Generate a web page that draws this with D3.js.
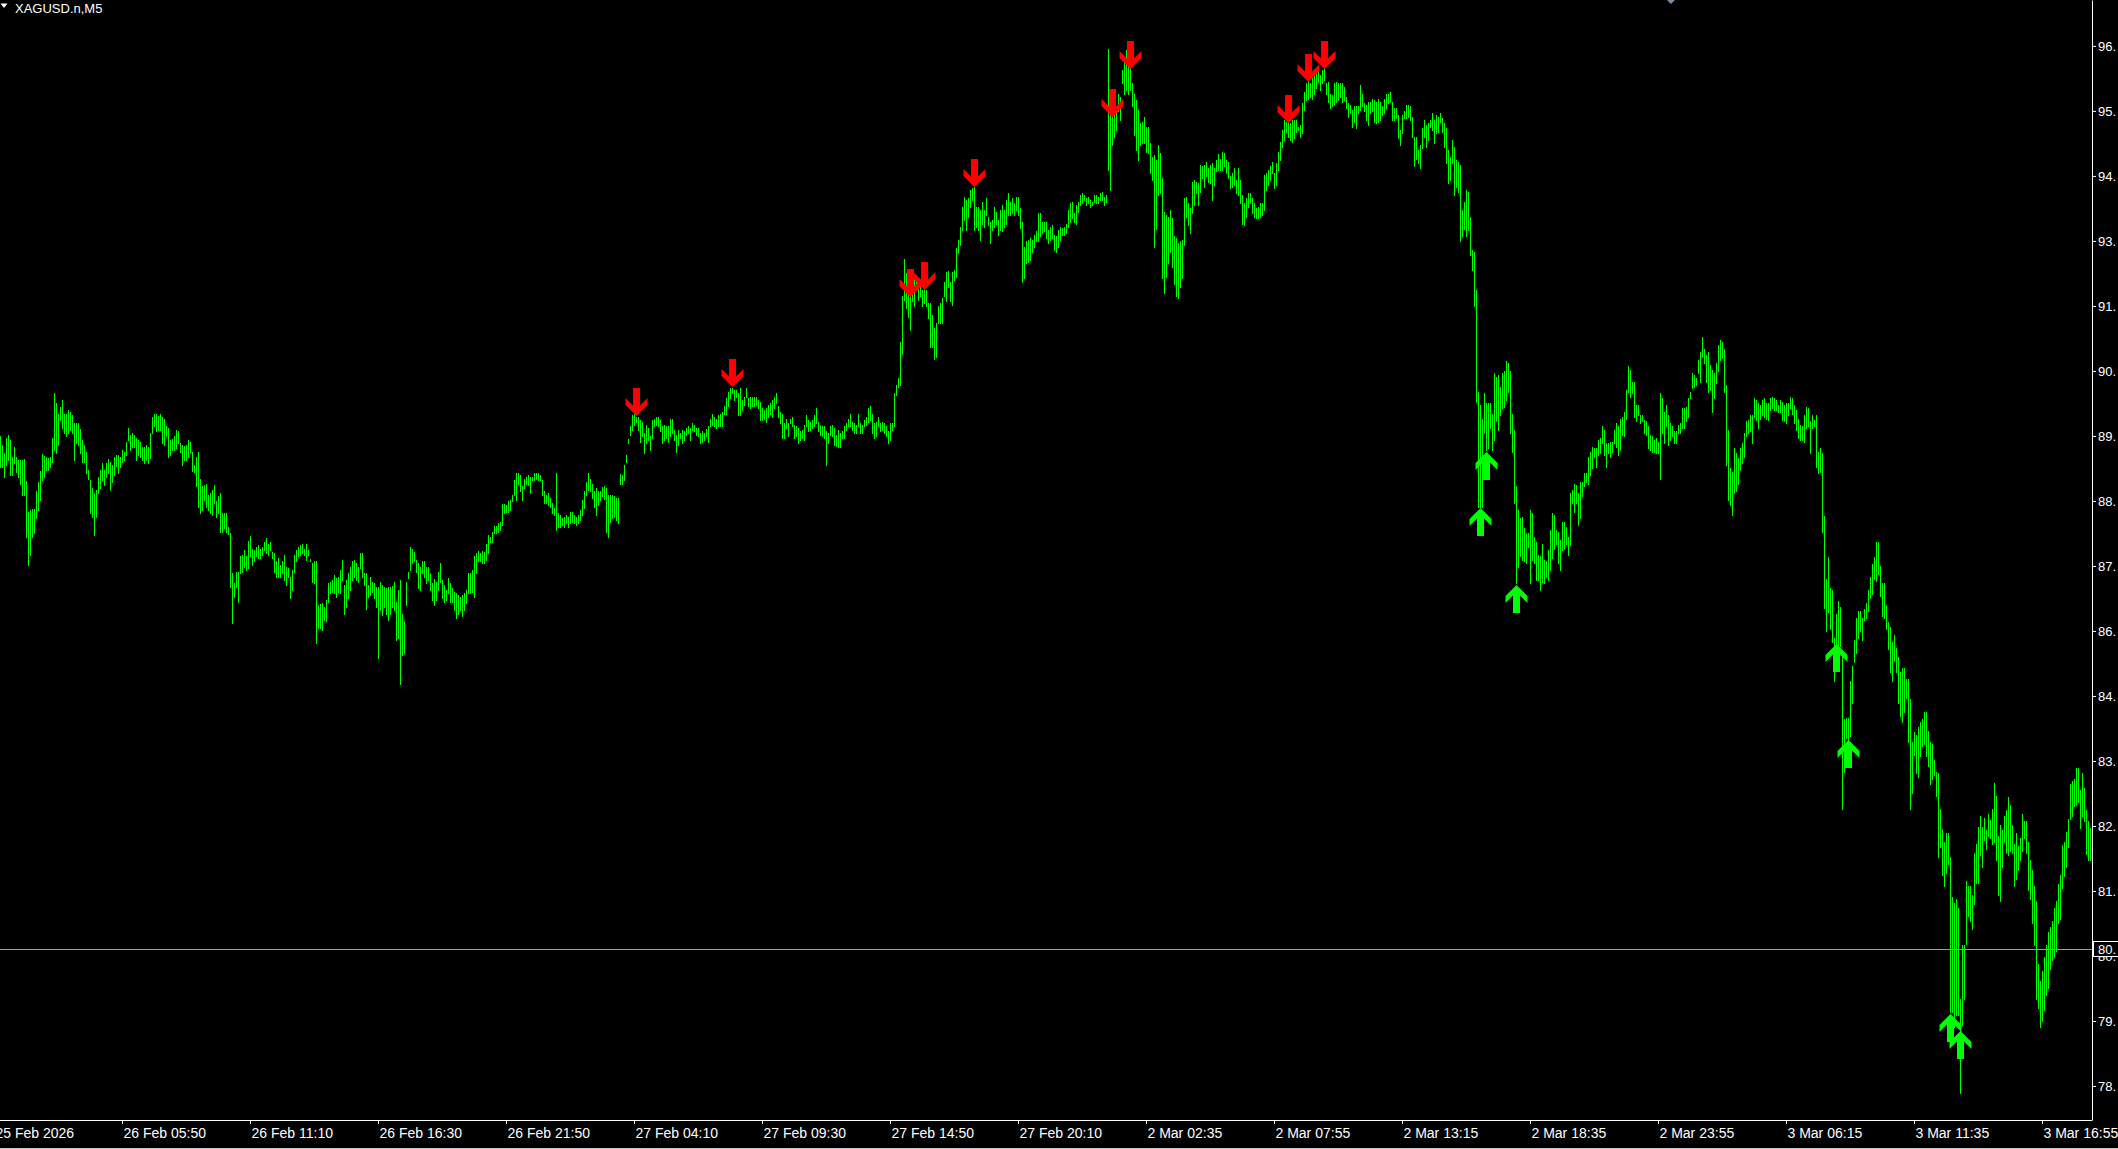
<!DOCTYPE html>
<html><head><meta charset="utf-8">
<script src="https://cdn.jsdelivr.net/npm/d3@7/dist/d3.min.js"></script>
<style>html,body{margin:0;padding:0;background:#000;overflow:hidden}svg{display:block}</style>
</head><body>
<svg id="chart" width="2118" height="1149"></svg>
<script>
const symbolTitle = "XAGUSD.n,M5";

const barHigh = [
89.62,89.46,89.31,89.59,89.64,89.55,89.25,89.43,89.25,89.19,
89.19,89.19,89.21,88.82,88.27,88.30,88.31,88.31,88.64,88.80,
89.00,89.30,89.26,89.24,89.22,89.24,89.58,90.38,90.20,90.02,
90.14,90.26,90.02,90.02,90.09,90.05,89.99,89.85,89.85,89.85,
89.74,89.55,89.46,89.34,89.01,88.83,88.69,88.60,88.66,88.89,
89.01,89.13,89.02,89.13,89.20,89.16,89.10,89.24,89.28,89.28,
89.25,89.37,89.34,89.52,89.76,89.64,89.67,89.64,89.58,89.55,
89.51,89.43,89.43,89.46,89.43,89.67,89.95,90.01,90.01,89.98,
90.01,89.96,89.92,89.79,89.76,89.55,89.56,89.62,89.73,89.70,89.49,
89.46,89.44,89.46,89.54,89.52,89.34,89.10,89.25,89.34,88.85,
88.72,88.74,88.76,88.57,88.60,88.66,88.74,88.45,88.54,88.60,
88.24,88.24,88.24,88.00,87.89,87.17,86.99,87.20,87.20,87.47,
87.50,87.58,87.47,87.75,87.83,87.60,87.58,87.64,87.67,87.61,
87.64,87.73,87.79,87.70,87.73,87.54,87.53,87.38,87.44,87.32,
87.38,87.50,87.29,87.26,87.11,87.23,87.50,87.58,87.64,87.67,
87.69,87.61,87.70,87.58,87.42,87.35,87.38,87.38,86.60,86.62,
86.63,86.57,86.69,86.99,87.02,87.05,87.14,87.08,87.11,87.23,87.41,
86.96,87.05,87.17,87.29,87.38,87.41,87.35,87.29,87.53,87.53,
87.17,87.17,86.96,87.11,87.02,87.00,86.93,86.93,87.02,86.96,
86.93,86.90,86.93,86.93,86.94,87.02,86.66,86.87,87.05,86.45,
86.31,87.02,87.20,87.64,87.61,87.55,87.41,87.36,87.29,87.38,
87.38,87.29,87.29,87.17,86.99,87.06,87.02,87.20,87.35,87.05,
86.96,86.87,87.08,86.99,86.90,86.84,86.81,86.78,86.75,86.78,
86.81,86.87,87.17,87.17,87.23,87.47,87.53,87.57,87.53,87.56,
87.55,87.70,87.85,87.82,87.91,88.01,88.02,88.06,88.09,88.40,88.40,
88.39,88.45,88.48,88.57,88.83,88.95,88.96,88.92,88.72,88.86,
88.89,88.92,88.89,88.89,88.95,88.96,88.95,88.92,88.83,88.63,
88.57,88.60,88.51,88.42,88.33,88.96,88.24,88.21,88.15,88.18,
88.21,88.18,88.27,88.27,88.21,88.18,88.21,88.30,88.48,88.63,
88.80,88.95,88.86,88.77,88.63,88.69,88.63,88.63,88.70,88.72,
88.69,88.57,88.57,88.57,88.54,88.51,88.51,88.94,88.93,89.10,89.28,
89.56,89.79,90.00,90.02,89.96,89.96,
89.91,89.87,89.67,89.82,89.76,89.61,89.91,89.93,89.96,89.96,
89.91,89.79,89.82,89.79,89.79,89.93,89.92,89.73,89.64,89.73,
89.68,89.73,89.70,89.76,89.79,89.76,89.85,89.82,89.76,89.76,
89.68,89.70,89.67,89.74,89.79,89.93,90.02,89.96,89.93,89.99,
90.02,90.05,90.15,90.29,90.41,90.47,90.47,90.44,90.44,90.38,
90.47,90.26,90.32,90.47,90.29,90.32,90.32,90.32,90.32,90.26,
90.23,90.11,90.08,90.11,90.17,90.20,90.26,90.32,90.38,90.15,
90.05,90.02,89.85,89.93,89.85,89.93,89.96,89.82,89.79,89.76,
89.70,89.73,89.82,89.99,89.91,89.87,89.91,89.99,90.11,89.87,
89.82,89.79,89.79,89.70,89.67,89.79,89.82,89.76,89.64,89.73,
89.67,89.70,89.79,89.85,89.93,90.01,89.87,89.85,89.82,90.02,
89.85,89.82,89.91,89.96,90.11,90.15,90.02,89.85,89.87,89.96,
89.85,89.87,89.85,89.79,89.70,89.85,89.85,90.38,90.53,90.65,
91.30,92.11,92.77,92.52,92.22,92.31,92.37,92.46,92.49,92.28,
92.31,92.22,92.28,92.22,91.99,91.99,91.78,91.54,91.63,91.93,
91.99,92.08,92.37,92.55,92.57,92.37,92.55,92.58,92.97,93.12,
93.35,93.71,93.89,93.83,93.86,94.01,94.04,94.07,93.71,93.71,
93.65,93.80,93.65,93.86,93.53,93.44,93.47,93.71,93.62,93.47,
93.65,93.74,93.65,93.83,93.95,93.80,93.86,93.77,93.89,93.89,
93.68,93.44,93.00,93.09,93.12,93.15,93.12,93.21,93.27,93.59,
93.59,93.44,93.44,93.44,93.30,93.35,93.38,93.21,93.18,93.30,
93.35,93.33,93.35,93.41,93.65,93.77,93.80,93.59,93.74,93.80,
93.92,93.95,93.92,93.86,93.89,93.83,93.80,93.92,93.92,93.89,
93.95,93.98,93.89,93.92,
96.52,95.35,95.50,95.56,95.50,95.73,95.67,96.15,96.30,96.51,
96.27,96.18,95.91,95.73,95.61,95.44,95.20,95.23,95.32,95.14,
95.14,94.84,94.60,94.63,94.54,94.81,94.66,94.22,93.62,93.56,
93.53,93.65,93.50,93.18,93.15,93.06,93.09,93.12,93.86,93.89,
93.77,93.68,94.16,94.19,94.16,94.13,94.46,94.43,94.46,94.51,
94.40,94.46,94.49,94.40,94.54,94.65,94.57,94.69,94.66,94.54,
94.51,94.25,94.31,94.40,94.19,94.40,94.19,93.92,93.77,93.86,
93.95,93.95,93.86,93.77,93.68,93.71,93.77,93.77,94.28,94.31,
94.37,94.43,94.51,94.31,94.49,94.69,94.87,95.08,95.26,95.23,
95.26,95.20,95.26,95.26,95.26,95.14,95.17,95.56,95.76,95.91,
95.97,95.91,96.03,96.09,96.15,96.18,96.06,96.15,96.18,95.92,
95.94,95.73,95.70,95.91,95.94,95.92,95.91,95.91,95.85,95.67,
95.56,95.53,95.44,95.51,95.50,95.50,95.88,95.73,95.56,95.53,
95.58,95.58,95.64,95.61,95.58,95.64,95.58,95.50,95.64,95.73,
95.73,95.76,95.58,95.47,95.47,95.35,95.08,95.35,95.41,95.53,
95.53,95.50,95.32,94.96,94.96,94.72,94.81,95.11,95.26,95.17,
95.20,95.26,95.38,95.26,95.35,95.32,95.38,95.29,95.20,95.11,
94.72,94.60,94.90,94.78,94.54,94.51,94.46,93.65,93.80,94.01,
93.98,93.53,92.94,92.91,92.22,
90.41,90.17,89.93,90.38,90.20,90.20,90.20,90.02,90.74,90.68,
90.71,90.50,90.74,90.77,90.95,90.92,90.77,90.02,89.73,88.72,
88.30,88.15,88.18,87.97,87.88,87.88,88.30,88.24,87.82,87.73,
87.50,87.47,87.70,87.41,87.38,87.59,87.94,88.24,88.21,87.94,
87.91,87.76,88.09,88.09,88.00,87.82,88.60,88.66,88.77,88.75,
88.60,88.80,88.80,88.95,88.95,89.25,89.34,89.43,89.40,89.40,
89.55,89.58,89.79,89.73,89.49,89.49,89.52,89.52,89.73,89.85,
89.79,89.93,89.96,90.05,90.44,90.86,90.80,90.59,90.59,90.17,
90.17,89.99,89.99,89.91,89.88,89.79,89.64,89.61,89.55,89.58,
89.52,90.38,90.29,90.05,90.17,89.99,89.85,89.79,89.70,89.70,
89.82,89.85,90.11,90.11,90.14,90.29,90.41,90.74,90.71,90.65,
90.98,91.12,91.39,91.18,91.06,91.12,90.89,90.80,90.74,90.92,
91.24,91.33,91.30,91.17,90.53,89.73,89.04,88.98,89.40,89.31,
89.22,89.40,89.49,89.67,89.88,89.91,89.99,89.99,90.29,90.26,
90.20,90.17,90.26,90.29,90.20,90.20,90.29,90.31,90.29,90.26,
90.17,90.27,90.23,90.17,90.20,90.20,90.32,90.30,90.17,90.08,
89.93,89.82,89.79,89.99,90.14,90.11,89.88,89.99,89.91,89.99,
89.34,89.40,89.31,
88.20,
87.06,87.46,86.90,86.87,86.01,86.44,86.67,86.57,85.68,84.56,
84.59,84.59,85.25,85.51,85.97,86.37,86.50,86.50,86.37,86.54,
86.64,86.87,87.10,87.33,87.46,87.72,87.72,87.30,87.00,87.00,
86.60,86.30,86.21,85.94,86.07,85.84,85.68,85.41,85.48,85.48,
85.28,85.28,84.92,84.16,84.33,84.29,84.42,84.52,84.56,84.69,
84.69,84.36,84.16,84.13,83.83,83.63,83.60,82.97,82.61,82.38,
82.54,82.54,82.11,81.39,81.29,81.35,81.19,79.57,80.53,80.53,
81.68,81.59,81.59,81.42,82.18,82.34,82.64,82.84,82.64,82.81,
82.58,82.87,82.77,82.97,83.43,83.20,82.48,82.67,82.58,82.84,
82.94,83.17,83.04,82.67,82.34,82.54,82.31,82.44,82.87,82.74,
82.74,82.38,82.05,81.88,81.59,81.32,80.20,79.90,80.07,80.33,
80.53,80.76,80.86,80.96,81.19,81.32,81.62,
81.79,82.32,82.38,82.55,82.78,83.41,83.47,83.50,83.70,83.70,
83.31,83.61,83.34,82.94,82.75,82.62
];

const barLow = [
89.07,89.07,88.89,89.10,89.19,88.92,88.92,89.13,88.98,88.89,
88.77,88.57,88.57,87.82,87.32,87.50,87.82,87.88,88.15,88.30,
88.48,88.83,88.88,89.02,89.01,89.06,89.16,89.37,89.31,89.46,
89.90,89.76,89.67,89.61,89.67,89.73,89.67,89.19,89.49,89.46,
89.31,89.16,89.16,88.95,88.86,88.24,88.18,87.85,88.18,88.60,
88.69,88.83,88.74,88.89,88.95,88.66,88.80,88.92,89.08,88.95,
89.07,89.16,89.19,89.28,89.55,89.37,89.43,89.43,89.19,89.28,
89.25,89.19,89.13,89.19,89.13,89.22,89.67,89.79,89.70,89.72,
89.73,89.49,89.46,89.61,89.25,89.28,89.37,89.37,89.40,89.49,89.34,
89.10,89.19,89.19,89.25,89.31,89.00,88.98,88.72,88.36,88.24,
88.30,88.48,88.36,88.30,88.24,88.21,88.42,88.18,88.24,87.91,
87.91,87.97,87.91,87.87,86.93,86.28,86.75,86.93,86.66,87.17,
87.20,87.29,87.23,87.26,87.47,87.32,87.38,87.47,87.44,87.44,
87.50,87.58,87.53,87.50,87.58,87.44,87.20,87.11,87.11,87.11,
87.17,87.05,86.96,87.11,86.72,86.87,87.20,87.38,87.47,87.50,
87.53,87.50,87.41,87.50,87.38,87.02,86.99,85.92,86.19,86.20,
86.16,86.34,86.31,86.66,86.81,86.84,86.81,86.75,86.84,86.81,87.05,
86.45,86.57,86.72,86.87,87.05,87.11,87.05,87.02,87.26,87.11,
86.96,86.54,86.75,86.78,86.84,86.72,86.57,85.65,86.51,86.43,
86.57,86.45,86.34,86.45,86.57,86.51,85.98,86.01,85.19,85.71,
85.74,86.60,87.08,87.23,87.35,87.38,87.20,86.90,86.87,87.17,
87.11,86.99,87.05,86.87,86.69,86.60,86.69,86.87,87.02,86.72,
86.66,86.69,86.81,86.66,86.66,86.51,86.37,86.45,86.51,86.40,
86.51,86.63,86.81,86.81,86.84,86.75,87.17,87.38,87.38,87.36,
87.35,87.41,87.53,87.73,87.73,87.88,87.88,87.91,87.94,88.03,88.24,
88.27,88.27,88.30,88.45,88.57,88.48,88.77,88.63,88.48,88.69,
88.77,88.74,88.60,88.83,88.83,88.86,88.83,88.83,88.57,88.42,
88.42,88.39,88.36,88.24,88.21,87.94,88.00,88.00,88.03,88.00,
88.06,88.00,88.06,88.09,88.06,88.03,88.06,88.12,88.21,88.33,
88.57,88.66,88.63,88.51,88.36,88.21,88.39,88.48,88.54,88.50,
87.91,87.82,88.09,88.15,88.18,88.12,88.06,88.77,88.77,88.83,89.16,
89.49,89.64,89.73,89.82,89.87,89.73,
89.52,89.61,89.31,89.49,89.55,89.37,89.58,89.79,89.82,89.79,
89.70,89.49,89.55,89.58,89.52,89.61,89.67,89.55,89.34,89.46,
89.58,89.49,89.55,89.64,89.67,89.55,89.73,89.70,89.64,89.61,
89.49,89.52,89.55,89.61,89.52,89.79,89.82,89.79,89.76,89.79,
89.79,89.79,90.02,90.02,90.15,90.29,90.38,90.26,90.32,89.99,
89.99,90.08,90.17,90.32,90.15,90.11,90.15,90.15,90.17,90.11,
89.91,89.91,89.93,89.87,89.96,90.02,89.96,90.11,90.20,89.96,
89.85,89.58,89.58,89.76,89.61,89.85,89.79,89.58,89.61,89.49,
89.55,89.58,89.55,89.79,89.70,89.73,89.76,89.79,89.85,89.70,
89.64,89.61,89.58,89.10,89.49,89.64,89.61,89.46,89.44,89.43,
89.43,89.58,89.58,89.73,89.79,89.79,89.73,89.67,89.67,89.79,
89.67,89.67,89.79,89.82,89.87,89.91,89.67,89.58,89.61,89.79,
89.70,89.73,89.67,89.61,89.49,89.55,89.73,89.79,90.35,90.50,
90.53,91.09,92.05,91.90,91.75,91.51,92.02,91.93,92.28,92.05,
92.11,91.93,91.99,91.93,91.72,91.21,91.21,91.00,91.03,91.63,
91.63,91.63,92.11,92.02,92.28,92.02,91.96,92.40,92.46,92.88,
93.03,93.30,93.47,93.30,93.53,93.71,93.83,93.30,93.35,93.30,
93.12,93.41,93.35,93.56,93.38,93.06,93.30,93.35,93.41,93.21,
93.30,93.27,93.35,93.41,93.56,93.56,93.59,93.56,93.65,93.56,
93.33,92.37,92.43,92.70,92.73,92.76,92.91,93.00,93.09,93.09,
93.18,93.24,93.27,93.15,93.06,93.12,93.15,92.94,92.91,93.00,
93.12,93.21,93.21,93.24,93.35,93.44,93.50,93.44,93.41,93.62,
93.74,93.77,93.83,93.74,93.77,93.71,93.74,93.80,93.77,93.77,
93.83,93.83,93.74,93.80,
94.37,94.01,94.81,94.96,95.08,95.41,95.26,95.91,95.73,95.79,
95.73,95.79,95.50,94.99,94.72,94.54,94.81,94.84,94.84,94.69,
94.66,94.31,94.19,93.00,93.32,93.92,93.95,92.43,92.17,92.46,
92.70,92.91,92.64,92.34,92.11,92.08,92.28,92.43,93.03,93.53,
93.38,93.24,93.59,93.74,93.95,93.74,93.98,94.22,94.07,94.25,
94.16,94.13,93.83,94.10,94.34,94.37,94.37,94.37,94.43,94.31,
94.22,94.04,94.07,94.10,93.95,93.92,93.77,93.41,93.38,93.53,
93.71,93.77,93.59,93.53,93.50,93.50,93.53,93.56,93.65,94.01,
94.10,94.19,94.31,94.04,94.10,94.37,94.54,94.78,94.90,95.05,
94.96,94.90,94.87,94.93,95.05,95.08,94.96,95.02,95.44,95.61,
95.64,95.67,95.64,95.73,95.82,95.94,95.79,95.91,95.97,95.73,
95.58,95.47,95.50,95.53,95.58,95.61,95.67,95.58,95.61,95.47,
95.32,95.38,95.14,95.23,95.11,95.38,95.44,95.50,95.41,95.26,
95.17,95.38,95.41,95.23,95.20,95.23,95.26,95.35,95.38,95.47,
95.56,95.58,95.26,95.26,95.29,94.93,94.81,95.02,95.29,95.29,
95.32,95.26,94.96,94.43,94.57,94.49,94.40,94.75,94.96,94.78,
94.90,95.14,95.08,94.84,95.02,95.05,95.23,95.05,94.78,94.49,
94.13,94.19,94.49,93.92,94.07,93.98,93.09,93.18,93.32,93.18,
93.30,92.85,92.58,91.93,90.23,
88.36,88.36,88.36,89.67,89.37,89.40,89.76,89.37,89.55,89.88,
89.73,89.99,90.11,90.14,90.26,90.41,89.67,89.34,88.42,86.99,
87.29,87.47,87.41,87.38,87.35,87.64,86.99,87.41,87.35,87.05,
87.05,86.87,87.02,86.99,87.11,87.05,87.23,87.44,87.61,87.70,
87.35,87.23,87.59,87.61,87.70,87.50,87.67,88.42,88.27,88.42,
88.03,88.15,88.54,88.72,88.80,88.77,88.92,89.04,89.25,89.07,
89.28,89.31,89.49,89.28,89.07,89.31,89.25,89.34,89.49,89.43,
89.28,89.37,89.64,89.61,89.93,90.41,90.32,90.38,89.96,89.88,
89.99,89.85,89.88,89.67,89.64,89.40,89.37,89.34,89.34,89.31,
89.31,88.86,89.67,89.49,89.79,89.46,89.55,89.61,89.49,89.49,
89.67,89.67,89.76,89.76,89.88,89.96,90.29,90.47,90.50,90.53,
90.74,90.59,91.03,90.92,90.59,90.41,90.44,90.05,90.29,90.56,
90.77,90.98,91.01,90.41,89.10,88.48,88.39,88.21,88.60,88.63,
88.77,89.01,89.13,89.25,89.61,89.67,89.70,89.49,89.96,89.91,
89.76,89.93,89.99,89.96,89.93,89.91,90.08,90.11,90.08,90.08,
90.05,90.05,89.91,89.88,89.85,89.99,90.11,90.02,89.85,89.73,
89.58,89.55,89.55,89.52,89.76,89.79,89.31,89.76,89.79,89.07,
88.95,88.98,87.91,
86.55,
86.14,86.47,86.17,85.94,85.25,85.91,85.88,85.88,82.97,83.63,
84.23,84.16,84.26,84.85,85.58,85.74,86.01,86.14,85.97,86.34,
86.37,86.50,86.73,86.80,87.06,87.03,87.16,86.77,86.40,86.37,
86.17,85.81,85.41,85.25,85.61,85.41,84.85,84.62,84.52,84.69,
84.95,84.16,82.97,83.24,83.93,83.60,83.53,83.90,84.09,84.13,
83.90,83.73,83.40,83.50,83.57,83.20,82.11,82.28,81.78,81.59,
81.82,81.98,79.34,79.34,79.08,79.28,79.28,77.89,79.11,79.57,
80.56,81.06,80.96,80.83,81.26,81.65,81.65,82.15,81.92,82.41,
82.25,82.48,82.44,82.34,82.38,82.05,81.42,81.32,81.92,82.38,
82.18,82.15,82.21,82.18,81.59,81.72,81.88,82.05,82.21,82.44,
82.18,81.52,81.35,80.93,80.53,79.57,79.41,79.08,79.18,79.37,
79.64,79.77,80.10,80.27,80.33,80.43,80.93,
81.00,81.56,81.76,81.93,82.28,82.78,82.84,83.01,83.04,83.08,
82.62,82.84,82.75,82.16,82.05,82.05
];

const timeLabels = ["25 Feb 2026","26 Feb 05:50","26 Feb 11:10","26 Feb 16:30","26 Feb 21:50",
  "27 Feb 04:10","27 Feb 09:30","27 Feb 14:50","27 Feb 20:10","2 Mar 02:35","2 Mar 07:55",
  "2 Mar 13:15","2 Mar 18:35","2 Mar 23:55","3 Mar 06:15","3 Mar 11:35","3 Mar 16:55"];
const timeLabelBars = [-3,61,125,189,253,317,381,445,509,573,637,701,765,829,893,957,1021];

const priceTicks = [96.580,95.420,94.260,93.100,91.940,90.780,89.620,88.460,87.300,
  86.140,84.980,83.820,82.660,81.500,80.340,79.180,78.020];

const sellBars = [318,366,455,462,487,556,565,644,654,662];
const sellPrices = [89.98,90.49,92.10,92.22,94.06,95.31,96.17,95.21,95.94,96.17];
const buyBars = [740,743,758,918,924,975,980];
const buyPrices = [88.33,89.34,86.96,85.91,84.19,79.31,79.01];

const bidPrice = 80.46;
const priceMin = 77.413, priceMax = 97.399;

// ---------------------------------------------------------------
const W = 2118, H = 1149, plotR = 2092, plotB = 1120;
const FONT = "'Liberation Sans', Arial, sans-serif";
// the price scale is cut by the window edge: only the integer part and the dot show
const visiblePrice = v => Math.floor(v) + ".";

const svg = d3.select("#chart");
svg.append("rect").attr("width", W).attr("height", H).attr("fill", "#000");

const nBars = barHigh.length;
const x = d3.scaleLinear().domain([0, nBars]).range([0, plotR]);
const y = d3.scaleLinear().domain([priceMin, priceMax]).range([plotB, 0]);

const plot = svg.append("g");
plot.append("clipPath").attr("id", "pc").append("rect")
  .attr("x", 0).attr("y", 0).attr("width", plotR).attr("height", plotB);
const inner = plot.append("g").attr("clip-path", "url(#pc)");

// bid line
inner.append("line")
  .attr("x1", 0).attr("x2", plotR)
  .attr("y1", Math.round(y(bidPrice)) + 0.5).attr("y2", Math.round(y(bidPrice)) + 0.5)
  .attr("stroke", "#a0a0a0").attr("stroke-width", 1).attr("shape-rendering", "crispEdges");

// bars
const bars = barHigh.map((h, i) => ({ i, h, l: barLow[i] }));
inner.append("g").selectAll("line").data(bars).join("line")
  .attr("x1", d => Math.round(x(d.i)) + 0.5)
  .attr("x2", d => Math.round(x(d.i)) + 0.5)
  .attr("y1", d => Math.round(y(d.h)))
  .attr("y2", d => Math.round(y(d.l)) + 1)
  .attr("stroke", "#00ff00").attr("stroke-width", 1)
  .attr("shape-rendering", "crispEdges");

// arrows
const downPath = "M0,0 L11,-11 L11,-18 L3.5,-10.5 L3.5,-28 L-3.5,-28 L-3.5,-10.5 L-11,-18 L-11,-11 Z";
const upPath = "M0,0 L11,11 L11,18 L3.5,10.5 L3.5,28 L-3.5,28 L-3.5,10.5 L-11,18 L-11,11 Z";
inner.append("g").selectAll("path").data(sellBars.map((b, k) => ({ b, p: sellPrices[k] }))).join("path")
  .attr("d", downPath)
  .attr("transform", d => `translate(${Math.round(x(d.b)) + 0.5},${Math.round(y(d.p))})`)
  .attr("fill", "#ff0000");
inner.append("g").selectAll("path").data(buyBars.map((b, k) => ({ b, p: buyPrices[k] }))).join("path")
  .attr("d", upPath)
  .attr("transform", d => `translate(${Math.round(x(d.b)) + 0.5},${Math.round(y(d.p))})`)
  .attr("fill", "#00ff00");

// y axis (right)
const yAxis = d3.axisRight(y).tickValues(priceTicks).tickSize(4).tickSizeOuter(0)
  .tickFormat(visiblePrice);
const gy = svg.append("g").attr("transform", `translate(${plotR},0)`).call(yAxis);
gy.select(".domain").attr("stroke", "#fff");
gy.selectAll(".tick line").attr("stroke", "#fff");
gy.selectAll(".tick text").attr("fill", "#fff").attr("font-family", FONT)
  .attr("font-size", 13).attr("x", 6);

// x axis (bottom)
const xAxis = d3.axisBottom(x).tickValues(timeLabelBars).tickSize(4).tickSizeOuter(0)
  .tickFormat((d, i) => timeLabels[i]);
const gx = svg.append("g").attr("transform", `translate(0,${plotB})`).call(xAxis);
gx.select(".domain").attr("stroke", "#fff").attr("d", `M0,0.5H${plotR}`);
gx.selectAll(".tick line").attr("stroke", "#fff");
gx.selectAll(".tick text").attr("fill", "#fff").attr("font-family", FONT)
  .attr("font-size", 14).attr("text-anchor", "start")
  .attr("x", 1).attr("y", 18).attr("dy", 0);

// bid price box
const by = Math.round(y(bidPrice));
svg.append("rect").attr("x", plotR + 1.5).attr("y", by - 7.5).attr("width", 40).attr("height", 15)
  .attr("fill", "#000").attr("stroke", "#fff").attr("stroke-width", 1);
svg.append("text").attr("x", plotR + 6).attr("y", by + 5).attr("fill", "#fff")
  .attr("font-family", FONT).attr("font-size", 13).text(visiblePrice(bidPrice));

// title + small markers
svg.append("path").attr("d", "M0.5,3.5 L7.5,3.5 L4,8 Z").attr("fill", "#fff");
svg.append("text").attr("x", 15).attr("y", 12.5).attr("fill", "#fff")
  .attr("font-family", FONT).attr("font-size", 13).text(symbolTitle);
svg.append("path").attr("d", "M1667,0 L1675,0 L1671,4 Z").attr("fill", "#7f8c9f");

// window bottom edge
svg.append("line").attr("x1", 0).attr("x2", W).attr("y1", 1148.5).attr("y2", 1148.5)
  .attr("stroke", "#c8c8c8").attr("stroke-width", 1);
</script>
</body></html>
